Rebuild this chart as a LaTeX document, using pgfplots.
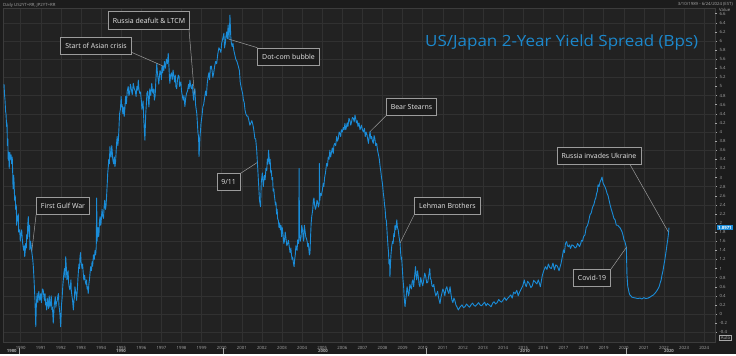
\documentclass[border=0pt]{standalone}
\usepackage{pgfplots}
\pgfplotsset{compat=1.18}
\usepackage{fontspec}
\setmainfont{Open Sans}
\definecolor{bgc}{HTML}{1C1C1C}
\definecolor{plotbg}{HTML}{222222}
\definecolor{gridc}{HTML}{313131}
\definecolor{framec}{HTML}{3C3C3C}
\definecolor{linec}{HTML}{1A8CD8}
\definecolor{titlec}{HTML}{1C88CC}
\definecolor{boxborder}{HTML}{9C9C9C}
\definecolor{tickc}{HTML}{A8A8A8}
\definecolor{boxtext}{HTML}{E8E8E8}
\begin{document}
\begin{tikzpicture}[x=1bp,y=1bp]
\fill[bgc] (0,0) rectangle (736,354);
\begin{axis}[
  at={(3bp,12bp)}, anchor=south west,
  width=712bp, height=334bp, scale only axis,
  xmin=1989.12, xmax=2024.54, ymin=-0.615, ymax=6.725,
  axis background/.style={fill=plotbg},
  axis line style={draw=framec, line width=0.6bp},
  /pgf/number format/assume math mode=true,
  xtick={1990,1991,...,2024},
  xticklabel style={/pgf/number format/1000 sep={}, font=\fontsize{4.3}{5}\selectfont, text=tickc, yshift=1.2bp},
  xtick style={draw=none},
  xmajorgrids,
  ytick={-0.4,0,0.4,0.8,1.2,1.6,2,2.4,2.8,3.2,3.6,4,4.4,4.8,5.2,5.6,6,6.4},
  extra y ticks={-0.2,0.2,0.6,1,1.4,1.8,2.2,2.6,3,3.4,3.8,4.2,4.6,5,5.4,5.8,6.2,6.6},
  extra y tick style={grid=none},
  ymajorgrids,
  grid style={draw=gridc, line width=0.5bp},
  ytick pos=right, yticklabel pos=right,
  tick align=outside,
  major tick length=2bp,
  ytick style={draw=tickc, line width=0.4bp},
  yticklabel style={/pgf/number format/.cd, fixed, precision=1, /tikz/.cd, font=\fontsize{4.3}{5}\selectfont, text=tickc, xshift=-1bp},
  clip=true,
]
\addplot[linec, line width=0.9bp, line join=round] coordinates {
(1989.17,5.05) (1989.20,4.80) (1989.22,4.70) (1989.25,4.45) (1989.27,4.40) (1989.30,4.12) (1989.32,4.20) (1989.34,3.70) (1989.36,3.85) (1989.38,3.38) (1989.41,3.55) (1989.43,3.20) (1989.46,3.55) (1989.48,3.40) (1989.52,3.50) (1989.55,3.30) (1989.58,3.45) (1989.60,3.15) (1989.62,2.75) (1989.65,3.05) (1989.67,2.90) (1989.70,2.50) (1989.73,2.60) (1989.75,2.30) (1989.78,2.40) (1989.80,1.95) (1989.83,2.15) (1989.85,2.05) (1989.88,2.20) (1989.90,1.80) (1989.95,1.85) (1989.98,1.60)
(1990.00,1.70) (1990.05,1.85) (1990.08,1.65) (1990.10,1.55) (1990.15,1.40) (1990.18,1.50) (1990.20,1.26) (1990.23,1.40) (1990.25,1.55) (1990.28,1.45) (1990.30,1.75) (1990.33,1.65) (1990.35,1.95) (1990.38,2.14) (1990.40,1.85) (1990.42,1.70) (1990.44,1.95) (1990.46,1.41) (1990.49,1.60) (1990.52,1.50) (1990.55,1.37) (1990.60,1.20) (1990.63,1.04) (1990.67,0.70) (1990.71,0.31) (1990.75,-0.28) (1990.78,0.20) (1990.80,0.35) (1990.82,0.45) (1990.85,0.25) (1990.88,0.38) (1990.90,0.50) (1990.95,0.30)
(1991.00,0.45) (1991.03,0.25) (1991.05,0.35) (1991.08,0.55) (1991.12,0.53) (1991.15,0.40) (1991.18,0.30) (1991.21,0.45) (1991.24,0.20) (1991.27,0.25) (1991.29,0.09) (1991.32,0.35) (1991.35,0.25) (1991.38,0.12) (1991.40,0.31) (1991.42,0.40) (1991.45,0.15) (1991.48,0.20) (1991.50,0.30) (1991.52,0.40) (1991.55,0.10) (1991.58,0.15) (1991.62,-0.20) (1991.65,0.05) (1991.67,0.20) (1991.70,0.30) (1991.72,0.38) (1991.75,0.15) (1991.78,0.25) (1991.82,0.30) (1991.85,0.40) (1991.88,0.45) (1991.90,0.20) (1991.93,0.10) (1991.95,0.00) (1991.99,-0.28)
(1992.03,0.20) (1992.06,0.35) (1992.08,0.50) (1992.10,0.65) (1992.12,0.75) (1992.15,0.90) (1992.18,1.00) (1992.21,0.80) (1992.24,1.26) (1992.26,1.10) (1992.28,0.95) (1992.30,0.75) (1992.33,0.85) (1992.36,0.95) (1992.38,0.70) (1992.41,0.60) (1992.45,0.53) (1992.48,0.65) (1992.50,0.75) (1992.52,0.50) (1992.55,0.40) (1992.58,0.30) (1992.62,0.09) (1992.65,0.30) (1992.67,0.35) (1992.70,0.60) (1992.72,0.53) (1992.75,0.45) (1992.78,0.30) (1992.82,0.55) (1992.85,0.80) (1992.88,1.00) (1992.90,1.10) (1992.93,1.00) (1992.95,1.26) (1992.98,1.35)
(1993.00,1.15) (1993.05,1.00) (1993.08,1.10) (1993.10,0.97) (1993.14,0.75) (1993.18,0.85) (1993.22,0.70) (1993.25,0.65) (1993.28,0.75) (1993.30,0.55) (1993.33,0.60) (1993.36,0.45) (1993.39,0.65) (1993.42,0.75) (1993.45,0.90) (1993.48,1.04) (1993.52,0.95) (1993.55,1.15) (1993.58,1.05) (1993.62,1.30) (1993.66,1.20) (1993.70,1.40) (1993.73,1.30) (1993.76,1.48) (1993.78,2.55) (1993.80,1.60) (1993.82,1.75) (1993.85,1.90) (1993.88,1.70) (1993.90,1.80) (1993.92,2.05) (1993.95,2.14) (1993.98,1.95)
(1994.00,2.00) (1994.03,2.20) (1994.05,2.30) (1994.08,2.15) (1994.12,2.10) (1994.15,2.35) (1994.18,2.50) (1994.22,2.30) (1994.25,2.40) (1994.28,2.65) (1994.31,2.90) (1994.33,3.10) (1994.36,3.25) (1994.38,3.40) (1994.41,3.30) (1994.44,3.68) (1994.47,3.50) (1994.50,3.45) (1994.53,3.70) (1994.55,3.60) (1994.58,3.40) (1994.62,3.30) (1994.66,3.45) (1994.69,3.24) (1994.72,3.35) (1994.74,3.50) (1994.77,3.75) (1994.80,3.90) (1994.83,3.70) (1994.86,3.82) (1994.89,4.10) (1994.92,4.40) (1994.96,4.50)
(1995.00,4.78) (1995.02,4.55) (1995.05,4.60) (1995.08,4.40) (1995.10,4.48) (1995.13,4.55) (1995.15,4.34) (1995.18,4.50) (1995.22,4.78) (1995.26,4.62) (1995.30,4.90) (1995.35,5.00) (1995.38,4.80) (1995.42,4.85) (1995.46,5.05) (1995.50,4.95) (1995.55,4.82) (1995.60,5.07) (1995.65,4.95) (1995.70,4.90) (1995.74,4.78) (1995.78,5.00) (1995.82,4.92) (1995.85,5.14) (1995.88,4.95) (1995.92,4.85) (1995.96,4.88)
(1996.00,4.70) (1996.03,4.50) (1996.06,4.60) (1996.09,4.68) (1996.12,4.30) (1996.15,4.05) (1996.18,3.82) (1996.22,4.40) (1996.25,4.60) (1996.28,4.85) (1996.32,4.90) (1996.35,4.70) (1996.38,4.55) (1996.42,4.95) (1996.47,4.80) (1996.52,5.07) (1996.56,4.88) (1996.60,4.85) (1996.62,4.95) (1996.65,4.70) (1996.69,4.80) (1996.72,5.10) (1996.77,5.51) (1996.80,5.30) (1996.83,5.20) (1996.87,5.05) (1996.90,5.22) (1996.93,5.35) (1996.97,5.30)
(1997.00,5.15) (1997.03,5.44) (1997.06,5.30) (1997.08,5.45) (1997.12,5.35) (1997.15,5.55) (1997.20,5.40) (1997.25,5.60) (1997.30,5.50) (1997.34,5.73) (1997.36,5.55) (1997.38,5.40) (1997.40,5.20) (1997.42,5.07) (1997.46,5.25) (1997.50,5.30) (1997.54,5.15) (1997.58,5.36) (1997.62,5.22) (1997.66,5.10) (1997.69,5.25) (1997.72,5.00) (1997.76,4.95) (1997.80,5.15) (1997.84,5.25) (1997.88,5.22) (1997.90,5.00) (1997.93,5.05) (1997.97,5.10)
(1998.00,4.90) (1998.04,4.80) (1998.08,4.70) (1998.12,4.80) (1998.17,4.56) (1998.21,4.75) (1998.25,4.85) (1998.30,4.90) (1998.35,5.05) (1998.38,4.95) (1998.42,5.14) (1998.46,5.00) (1998.50,4.95) (1998.54,5.05) (1998.57,4.85) (1998.60,4.70) (1998.64,4.92) (1998.67,4.95) (1998.70,4.60) (1998.73,4.50) (1998.76,4.41) (1998.79,4.20) (1998.82,3.97) (1998.85,3.90) (1998.87,3.46) (1998.90,3.70) (1998.92,3.90) (1998.95,4.05) (1998.97,4.19)
(1999.03,4.40) (1999.06,4.55) (1999.10,4.60) (1999.15,4.75) (1999.20,4.90) (1999.24,4.80) (1999.28,5.07) (1999.32,5.20) (1999.36,5.30) (1999.40,5.15) (1999.44,5.44) (1999.48,5.45) (1999.52,5.35) (1999.56,5.20) (1999.60,5.29) (1999.65,5.45) (1999.70,5.55) (1999.75,5.50) (1999.80,5.70) (1999.86,5.85) (1999.92,5.80) (1999.96,5.75)
(2000.00,5.95) (2000.05,6.05) (2000.11,6.17) (2000.14,5.85) (2000.18,5.95) (2000.21,6.10) (2000.25,6.20) (2000.28,6.05) (2000.32,6.35) (2000.36,6.04) (2000.39,6.30) (2000.41,6.57) (2000.45,6.10) (2000.48,5.95) (2000.52,5.88) (2000.56,5.95) (2000.60,5.80) (2000.65,5.70) (2000.70,5.60) (2000.76,5.55) (2000.83,5.44) (2000.88,5.35) (2000.92,5.10) (2000.96,5.00)
(2001.00,4.92) (2001.04,4.85) (2001.08,4.70) (2001.12,4.65) (2001.16,4.48) (2001.20,4.40) (2001.25,4.35) (2001.30,4.35) (2001.35,4.26) (2001.40,4.15) (2001.45,4.20) (2001.50,4.25) (2001.57,4.12) (2001.61,4.00) (2001.65,3.85) (2001.69,3.85) (2001.74,3.60) (2001.78,3.30) (2001.83,2.90) (2001.88,2.50) (2001.93,2.36) (2001.97,2.90)
(2002.02,3.10) (2002.07,2.80) (2002.12,3.05) (2002.16,2.95) (2002.20,3.20) (2002.24,3.15) (2002.27,3.40) (2002.30,3.30) (2002.33,3.60) (2002.38,3.30) (2002.41,3.40) (2002.44,3.10) (2002.47,3.15) (2002.50,2.95) (2002.53,3.00) (2002.56,2.70) (2002.59,2.75) (2002.62,2.60) (2002.65,2.50) (2002.67,2.40) (2002.70,2.45) (2002.73,2.20) (2002.76,2.30) (2002.78,2.10) (2002.82,2.05) (2002.85,1.90) (2002.88,2.00) (2002.92,1.85) (2002.95,1.95) (2002.98,1.70)
(2003.01,1.90) (2003.05,1.75) (2003.09,1.55) (2003.12,1.60) (2003.16,1.80) (2003.20,1.65) (2003.24,1.50) (2003.28,1.55) (2003.32,1.62) (2003.36,1.48) (2003.40,1.35) (2003.44,1.45) (2003.47,1.30) (2003.50,1.20) (2003.53,1.25) (2003.56,1.15) (2003.60,1.04) (2003.63,1.20) (2003.66,1.30) (2003.69,1.50) (2003.72,1.45) (2003.75,1.40) (2003.78,1.63) (2003.83,1.55) (2003.85,3.20) (2003.87,1.75) (2003.91,1.60) (2003.95,1.70) (2003.98,1.95)
(2004.02,1.85) (2004.05,1.70) (2004.08,1.60) (2004.11,1.95) (2004.14,1.85) (2004.18,1.70) (2004.22,1.65) (2004.25,1.60) (2004.28,1.48) (2004.31,1.55) (2004.34,1.40) (2004.36,1.30) (2004.39,1.33) (2004.42,1.70) (2004.45,2.00) (2004.48,2.15) (2004.50,2.20) (2004.53,2.30) (2004.56,2.51) (2004.59,2.55) (2004.62,2.40) (2004.66,2.30) (2004.70,2.36) (2004.74,2.50) (2004.78,2.45) (2004.81,2.35) (2004.85,2.43) (2004.86,3.31) (2004.88,2.50) (2004.91,2.65) (2004.95,2.60)
(2005.00,2.70) (2005.05,2.87) (2005.08,2.80) (2005.12,3.00) (2005.16,3.10) (2005.22,3.31) (2005.26,3.25) (2005.30,3.45) (2005.34,3.40) (2005.38,3.60) (2005.42,3.45) (2005.46,3.55) (2005.50,3.65) (2005.55,3.53) (2005.58,3.70) (2005.62,3.75) (2005.67,3.70) (2005.72,3.90) (2005.76,3.80) (2005.80,3.85) (2005.84,4.00) (2005.88,3.97) (2005.92,3.90) (2005.95,4.05)
(2006.00,4.00) (2006.05,4.10) (2006.09,4.05) (2006.13,4.19) (2006.17,4.05) (2006.20,4.10) (2006.24,4.20) (2006.28,4.12) (2006.33,4.30) (2006.38,4.25) (2006.42,4.15) (2006.45,4.20) (2006.50,4.32) (2006.55,4.30) (2006.59,4.22) (2006.63,4.37) (2006.67,4.28) (2006.70,4.20) (2006.74,4.25) (2006.78,4.12) (2006.83,4.20) (2006.88,4.05) (2006.92,4.10) (2006.95,4.15)
(2007.00,4.05) (2007.05,4.00) (2007.10,4.08) (2007.14,3.90) (2007.18,4.00) (2007.22,3.95) (2007.26,3.85) (2007.30,3.75) (2007.34,3.90) (2007.38,4.01) (2007.42,3.85) (2007.46,3.90) (2007.50,3.80) (2007.54,3.75) (2007.58,3.92) (2007.62,3.85) (2007.66,3.70) (2007.71,3.75) (2007.75,3.60) (2007.80,3.50) (2007.84,3.40) (2007.88,3.24) (2007.91,3.15) (2007.95,3.00)
(2008.00,2.85) (2008.04,2.65) (2008.07,2.55) (2008.10,2.40) (2008.13,2.30) (2008.16,2.10) (2008.19,2.05) (2008.21,1.92) (2008.24,1.70) (2008.27,1.50) (2008.30,1.35) (2008.32,1.10) (2008.35,1.20) (2008.37,0.82) (2008.40,1.15) (2008.42,1.30) (2008.46,1.50) (2008.50,1.60) (2008.53,1.55) (2008.56,1.77) (2008.59,1.70) (2008.62,1.95) (2008.66,1.85) (2008.71,2.07) (2008.74,1.90) (2008.78,1.85) (2008.82,1.70) (2008.87,1.56) (2008.90,1.35) (2008.93,1.20) (2008.95,1.25) (2008.98,1.04)
(2009.02,0.75) (2009.05,0.60) (2009.08,0.35) (2009.12,0.16) (2009.15,0.30) (2009.18,0.40) (2009.22,0.60) (2009.25,0.53) (2009.29,0.40) (2009.32,0.45) (2009.36,0.65) (2009.40,0.60) (2009.44,0.55) (2009.47,0.70) (2009.51,0.75) (2009.55,0.60) (2009.59,0.80) (2009.64,1.04) (2009.67,0.85) (2009.70,0.75) (2009.74,0.95) (2009.78,0.82) (2009.82,0.65) (2009.86,0.60) (2009.90,0.80) (2009.95,0.70)
(2010.00,0.62) (2010.05,0.75) (2010.10,0.90) (2010.15,0.82) (2010.20,0.68) (2010.25,0.70) (2010.30,0.85) (2010.35,1.00) (2010.38,0.78) (2010.42,0.75) (2010.46,0.62) (2010.50,0.60) (2010.55,0.65) (2010.60,0.50) (2010.65,0.40) (2010.70,0.45) (2010.74,0.50) (2010.78,0.38) (2010.82,0.30) (2010.86,0.23) (2010.90,0.35) (2010.95,0.45)
(2011.00,0.55) (2011.05,0.50) (2011.10,0.40) (2011.15,0.55) (2011.20,0.60) (2011.25,0.50) (2011.30,0.45) (2011.36,0.60) (2011.40,0.45) (2011.45,0.31) (2011.50,0.25) (2011.55,0.35) (2011.60,0.30) (2011.65,0.20) (2011.71,0.15) (2011.77,0.09) (2011.85,0.15) (2011.95,0.20)
(2012.03,0.14) (2012.10,0.16) (2012.18,0.22) (2012.25,0.18) (2012.33,0.15) (2012.40,0.20) (2012.48,0.24) (2012.55,0.19) (2012.62,0.17) (2012.70,0.21) (2012.78,0.25) (2012.85,0.20) (2012.92,0.18)
(2013.00,0.22) (2013.08,0.26) (2013.15,0.18) (2013.22,0.23) (2013.30,0.20) (2013.40,0.16) (2013.48,0.24) (2013.55,0.27) (2013.62,0.22) (2013.70,0.25) (2013.78,0.32) (2013.85,0.28) (2013.92,0.26)
(2014.00,0.31) (2014.08,0.36) (2014.15,0.30) (2014.22,0.34) (2014.30,0.38) (2014.38,0.42) (2014.45,0.35) (2014.52,0.48) (2014.60,0.45) (2014.68,0.52) (2014.75,0.40) (2014.82,0.48) (2014.90,0.55) (2014.98,0.62)
(2015.05,0.75) (2015.10,0.65) (2015.15,0.60) (2015.22,0.72) (2015.30,0.67) (2015.38,0.58) (2015.45,0.62) (2015.52,0.74) (2015.60,0.70) (2015.68,0.66) (2015.75,0.75) (2015.80,0.68) (2015.85,0.60) (2015.90,0.72) (2015.95,0.85)
(2016.02,0.95) (2016.10,1.04) (2016.18,0.98) (2016.25,1.10) (2016.32,1.02) (2016.40,1.00) (2016.48,1.12) (2016.55,0.97) (2016.62,1.08) (2016.70,1.05) (2016.78,0.95) (2016.88,1.11) (2016.94,1.25)
(2017.00,1.41) (2017.05,1.35) (2017.10,1.55) (2017.16,1.59) (2017.20,1.50) (2017.25,1.48) (2017.30,1.52) (2017.35,1.44) (2017.42,1.52) (2017.50,1.50) (2017.58,1.45) (2017.65,1.48) (2017.70,1.55) (2017.75,1.52) (2017.80,1.48) (2017.86,1.55) (2017.90,1.62) (2017.95,1.60)
(2018.00,1.70) (2018.07,1.74) (2018.13,1.90) (2018.20,1.95) (2018.26,2.05) (2018.32,2.18) (2018.38,2.22) (2018.45,2.35) (2018.51,2.40) (2018.57,2.51) (2018.61,2.55) (2018.65,2.65) (2018.69,2.70) (2018.72,2.84) (2018.77,2.80) (2018.82,2.90) (2018.87,2.95) (2018.92,3.01) (2018.96,2.90)
(2019.00,2.85) (2019.06,2.80) (2019.12,2.73) (2019.17,2.65) (2019.22,2.60) (2019.27,2.50) (2019.32,2.40) (2019.38,2.30) (2019.45,2.20) (2019.51,2.10) (2019.57,2.07) (2019.63,1.95) (2019.70,1.95) (2019.76,1.92) (2019.82,1.89) (2019.87,1.85) (2019.92,1.80) (2019.97,1.72)
(2020.01,1.63) (2020.05,1.60) (2020.08,1.55) (2020.11,1.50) (2020.13,1.45) (2020.16,0.86) (2020.20,0.60) (2020.23,0.55) (2020.26,0.48) (2020.30,0.42) (2020.35,0.40) (2020.41,0.37) (2020.50,0.36) (2020.60,0.35) (2020.70,0.34) (2020.81,0.35) (2020.90,0.33)
(2021.00,0.36) (2021.10,0.34) (2021.21,0.35) (2021.30,0.37) (2021.40,0.40) (2021.48,0.42) (2021.56,0.46) (2021.63,0.50) (2021.70,0.55) (2021.76,0.60) (2021.81,0.68) (2021.86,0.75) (2021.90,0.85) (2021.95,0.95)
(2022.00,1.08) (2022.04,1.18) (2022.08,1.30) (2022.12,1.42) (2022.15,1.52) (2022.19,1.64) (2022.22,1.75) (2022.25,1.90)
};
\coordinate (p1) at (axis cs:1990.55,1.37);
\coordinate (p2) at (axis cs:1997.08,5.45);
\coordinate (p3) at (axis cs:1998.64,4.85);
\coordinate (p4) at (axis cs:2000.36,6.04);
\coordinate (p5) at (axis cs:2001.77,3.33);
\coordinate (p6) at (axis cs:2007.38,4.01);
\coordinate (p7) at (axis cs:2008.87,1.56);
\coordinate (p8) at (axis cs:2022.22,1.80);
\coordinate (p9) at (axis cs:2020.14,1.47);
\coordinate (pv) at (axis cs:2024.54,1.8971);
\end{axis}
% title
\node[anchor=west, text=titlec, font=\fontsize{15.5}{18}\selectfont, inner sep=0] at (425,312) {\scalebox{1.1}[1]{US/Japan 2-Year Yield Spread (Bps)}};
% annotation boxes
\tikzset{ann/.style={draw=boxborder, fill=bgc, text=boxtext, font=\fontsize{7}{8}\selectfont, inner xsep=4.5bp, inner ysep=0bp, minimum height=17bp, line width=0.6bp}}
\node[ann] (b1) at (63,148.5) {First Gulf War};
\node[ann] (b2) at (96,308.5) {Start of Asian crisis};
\node[ann, minimum height=18bp] (b3) at (149,333.5) {Russia deafult \& LTCM};
\node[ann] (b4) at (288.5,297.5) {Dot-com bubble};
\node[ann] (b5) at (228.7,172) {9/11};
\node[ann] (b6) at (411.5,247) {Bear Stearns};
\node[ann] (b7) at (447.5,148.5) {Lehman Brothers};
\node[ann] (b8) at (599,198) {Russia invades Ukraine};
\node[ann] (b9) at (592,76) {Covid-19};
\begin{scope}[draw=boxborder, line width=0.5bp]
\draw (b1.south west) -- (p1);
\draw ([yshift=2bp]b2.south east) -- (p2);
\draw ([xshift=-1bp,yshift=1bp]b3.south east) -- (p3);
\draw (b4.north west) -- (p4);
\draw (b5.north east) -- (p5);
\draw (b6.south west) -- (p6);
\draw (b7.south west) -- (p7);
\draw ([xshift=-11bp]b8.south east) -- (p8);
\draw (b9.north east) -- (p9);
\end{scope}
% header texts
\node[anchor=west, text=tickc, font=\fontsize{4.3}{5}\selectfont, inner sep=0] at (3,349) {Daily US2YT=RR, JP2YT=RR};
\node[anchor=east, text=tickc, font=\fontsize{4.3}{5}\selectfont, inner sep=0] at (733,349.5) {3/10/1989 - 6/24/2024 (EST)};
\node[anchor=west, text=tickc, font=\fontsize{4.3}{5}\selectfont, inner sep=0] at (719,344) {Value};
% current value label
\node[fill=linec, text=white, font=\fontsize{4.3}{5}\selectfont\bfseries, inner xsep=1bp, inner ysep=0.8bp, anchor=west] at ([xshift=2bp]pv) {1.8971};
% auto box
\node[draw=tickc, text=tickc, font=\fontsize{4.3}{5}\selectfont, inner xsep=1.2bp, inner ysep=0.6bp, line width=0.3bp] at (725.5,16.5) {Auto};
% decade labels
\begin{scope}[font=\fontsize{4.3}{5}\selectfont\bfseries, text=tickc]
\node at (11.8,3) {1980};
\node at (121,3) {1990};
\node at (323,3) {2000};
\node at (525,3) {2010};
\node at (669,3) {2020};
\end{scope}
\begin{scope}[draw=tickc, line width=0.4bp]
\draw (19.3,0) -- (19.3,6);
\draw (223.3,0) -- (223.3,6);
\draw (425.7,0) -- (425.7,6);
\draw (625.7,0) -- (625.7,6);
\end{scope}
\end{tikzpicture}
\end{document}
